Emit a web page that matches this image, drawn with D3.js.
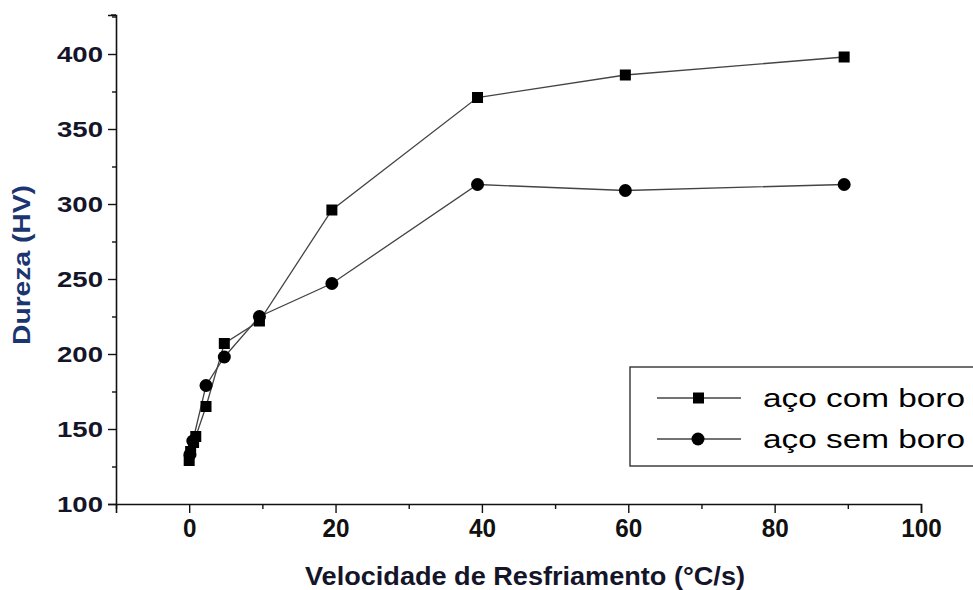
<!DOCTYPE html>
<html>
<head>
<meta charset="utf-8">
<script src="https://cdn.jsdelivr.net/npm/d3@7"></script>
<style>
    body { margin: 0; background: #fff; }
    svg { display: block; }
</style>
</head>
<body>
<div id="chart"></div>
<script>
// data
const seriesNames = ["aço com boro", "aço sem boro"];
const comBoroX = [0, 0.2, 0.6, 0.9, 2.3, 4.8, 9.6, 19.5, 39.4, 59.6, 89.5];
const comBoroY = [129, 135, 141, 145, 165, 207, 222, 296, 371, 386, 398];
const semBoroX = [0.1, 0.5, 2.3, 4.8, 9.6, 19.5, 39.4, 59.6, 89.5];
const semBoroY = [133, 142, 179, 198, 225, 247, 313, 309, 313];
const xTicks = [0, 20, 40, 60, 80, 100];
const xMinorTicks = [-10, 10, 30, 50, 70, 90];
const yTicks = [100, 150, 200, 250, 300, 350, 400];
const yMinorTicks = [125, 175, 225, 275, 325, 375, 425];
const xLabel = "Velocidade de Resfriamento (°C/s)";
const yLabel = "Dureza (HV)";

const W = 973, H = 590;
const margin = { top: 15, right: 52, bottom: 86, left: 116 };
const width = W - margin.left - margin.right,
    height = H - margin.top - margin.bottom;

const svgRoot = d3.select("#chart")
    .append("svg")
    .attr("width", W)
    .attr("height", H);

const svg = svgRoot.append("g")
    .attr("transform", `translate(${margin.left},${margin.top})`);

const x = d3.scaleLinear().domain([-10, 100]).range([0, width]);
const y = d3.scaleLinear().domain([100, 426]).range([height, 0]);

// X axis
const xAxis = svg.append("g")
    .attr("transform", `translate(0, ${height})`)
    .call(d3.axisBottom(x).tickValues(xTicks).tickSize(9).tickPadding(6).tickFormat(d3.format("d")));
svg.append("g")
    .attr("transform", `translate(0, ${height})`)
    .call(d3.axisBottom(x).tickValues(xMinorTicks).tickSize(5).tickFormat(""))
    .select(".domain").remove();

// condensed look of the original labels
xAxis.selectAll("text")
    .style("font-family", "'Liberation Sans', Arial, sans-serif")
    .style("font-weight", "bold")
    .style("font-size", "26px")
    .attr("textLength", d => String(d).length * 13.5)
    .attr("lengthAdjust", "spacingAndGlyphs")
    .attr("fill", "#111");

// Y axis
const yAxis = svg.append("g")
    .call(d3.axisLeft(y).tickValues(yTicks).tickSize(8).tickPadding(5));
svg.append("g")
    .call(d3.axisLeft(y).tickValues(yMinorTicks).tickSize(4).tickFormat(""))
    .select(".domain").remove();

yAxis.selectAll("text")
    .style("font-family", "'Liberation Sans', Arial, sans-serif")
    .style("font-weight", "bold")
    .style("font-size", "22px")
    .attr("textLength", 46)
    .attr("lengthAdjust", "spacingAndGlyphs")
    .attr("dy", "0.36em")
    .attr("fill", "#15152a");

svg.selectAll(".domain").attr("stroke", "#111").attr("stroke-width", 1.6);
svg.selectAll(".tick line").attr("stroke", "#111").attr("stroke-width", 1.4);

// small cap at the top of the y axis
svg.append("line")
    .attr("x1", -5).attr("x2", 0)
    .attr("y1", y(426)).attr("y2", y(426))
    .attr("stroke", "#111")
    .attr("stroke-width", 1.4);

// axis titles
svgRoot.append("text")
    .attr("x", 525)
    .attr("y", 585)
    .attr("text-anchor", "middle")
    .attr("textLength", 440)
    .attr("lengthAdjust", "spacingAndGlyphs")
    .style("font-family", "'Liberation Sans', Arial, sans-serif")
    .style("font-weight", "bold")
    .style("font-size", "25px")
    .attr("fill", "#15152a")
    .text(xLabel);

svgRoot.append("text")
    .attr("transform", "translate(30, 265) rotate(-90)")
    .attr("text-anchor", "middle")
    .attr("textLength", 160)
    .attr("lengthAdjust", "spacingAndGlyphs")
    .style("font-family", "'Liberation Sans', Arial, sans-serif")
    .style("font-weight", "bold")
    .style("font-size", "23px")
    .attr("fill", "#1a3570")
    .text(yLabel);

const comBoro = comBoroX.map((d, i) => ({ x: d, y: comBoroY[i] }));
const semBoro = semBoroX.map((d, i) => ({ x: d, y: semBoroY[i] }));

const line = d3.line()
    .x(d => x(d.x))
    .y(d => y(d.y));

// lines
[semBoro, comBoro].forEach(s => {
    svg.append("path")
        .attr("d", line(s))
        .attr("fill", "none")
        .attr("stroke", "#444")
        .attr("stroke-width", 1.3);
});

// markers
svg.selectAll("circle.sem")
    .data(semBoro)
    .join("circle")
    .attr("class", "sem")
    .attr("cx", d => x(d.x))
    .attr("cy", d => y(d.y))
    .attr("r", 6.5)
    .attr("fill", "#000");

svg.selectAll("rect.com")
    .data(comBoro)
    .join("rect")
    .attr("class", "com")
    .attr("x", d => x(d.x) - 5.5)
    .attr("y", d => y(d.y) - 5.5)
    .attr("width", 11)
    .attr("height", 11)
    .attr("fill", "#000");

// legend
const legend = svgRoot.append("g").attr("transform", "translate(630, 367)");
legend.append("rect")
    .attr("x", 0)
    .attr("y", 0)
    .attr("width", 400)
    .attr("height", 99)
    .attr("fill", "#fff")
    .attr("stroke", "#333")
    .attr("stroke-width", 1.4);

seriesNames.forEach((name, i) => {
    const ly = 31 + i * 41;
    legend.append("line")
        .attr("x1", 27).attr("x2", 111)
        .attr("y1", ly).attr("y2", ly)
        .attr("stroke", "#444")
        .attr("stroke-width", 1.3);
    if (i === 0) {
        legend.append("rect")
            .attr("x", 63).attr("y", ly - 5.5)
            .attr("width", 11).attr("height", 11)
            .attr("fill", "#000");
    } else {
        legend.append("circle")
            .attr("cx", 68).attr("cy", ly)
            .attr("r", 6.5)
            .attr("fill", "#000");
    }
    legend.append("text")
        .attr("x", 133)
        .attr("y", ly + 9)
        .attr("textLength", 202)
        .attr("lengthAdjust", "spacingAndGlyphs")
        .style("font-family", "'Liberation Sans', Arial, sans-serif")
        .style("font-size", "26px")
        .attr("fill", "#000")
        .text(name);
});
</script>
</body>
</html>
